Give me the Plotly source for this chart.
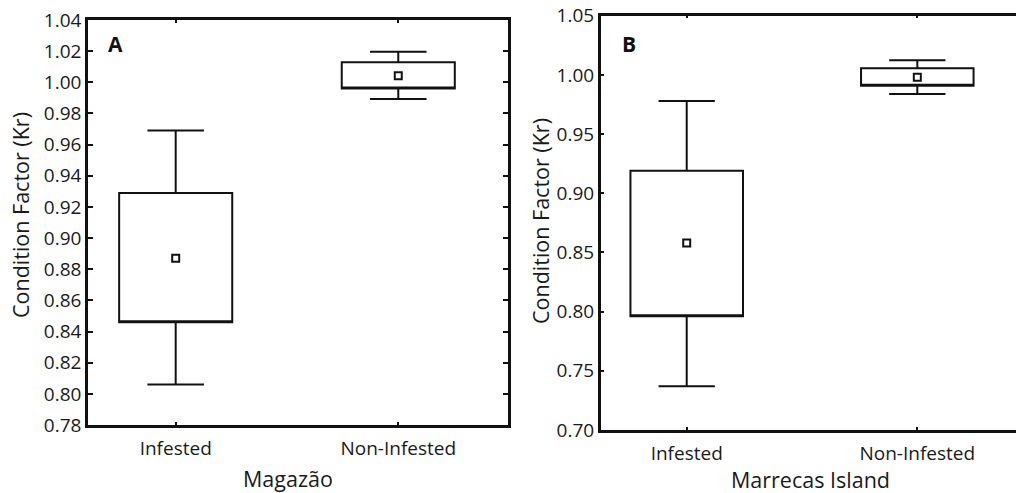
import plotly.graph_objects as go

categories = ["Infested", "Non-Infested"]

# Panel A - Magazão
a_upper = [0.969, 1.0196]
a_q3 = [0.929, 1.0128]
a_mean = [0.887, 1.0042]
a_q1 = [0.846, 0.9961]
a_lower = [0.806, 0.9893]

# Panel B - Marrecas Island
b_upper = [0.978, 1.0123]
b_q3 = [0.919, 1.0056]
b_mean = [0.858, 0.998]
b_q1 = [0.796, 0.9909]
b_lower = [0.737, 0.9839]

a_ticks = [0.78, 0.80, 0.82, 0.84, 0.86, 0.88, 0.90, 0.92, 0.94, 0.96, 0.98, 1.00, 1.02, 1.04]
b_ticks = [0.70, 0.75, 0.80, 0.85, 0.90, 0.95, 1.00, 1.05]

FONT = "Open Sans"
W, H = 1016, 493

fig = go.Figure()

def add_panel(xa, ya, q1, q3, lo, up, mean, bw):
    fig.add_trace(go.Box(
        x=categories, q1=q1, median=q1, q3=q3, lowerfence=lo, upperfence=up,
        width=bw, whiskerwidth=0.5, fillcolor="white",
        line=dict(color="#111111", width=2), boxpoints=False,
        xaxis=xa, yaxis=ya, showlegend=False, hoverinfo="skip"))
    fig.add_trace(go.Scatter(
        x=categories, y=mean, mode="markers",
        marker=dict(symbol="square-open", size=7, color="#111111",
                    line=dict(width=2, color="#111111")),
        xaxis=xa, yaxis=ya, showlegend=False, hoverinfo="skip"))

add_panel("x", "y", a_q1, a_q3, a_lower, a_upper, a_mean, 0.508)
add_panel("x2", "y2", b_q1, b_q3, b_lower, b_upper, b_mean, 0.488)

axis_common = dict(showgrid=False, zeroline=False, showline=True, linecolor="#111111",
                   linewidth=2.5, ticks="inside", tickcolor="#111111", tickwidth=2,
                   tickfont=dict(family=FONT, size=19, color="#1a1a1a"), automargin=False)

fig.update_layout(
    width=W, height=H, margin=dict(l=0, r=0, t=0, b=0),
    paper_bgcolor="white", plot_bgcolor="white",
    font=dict(family=FONT, color="#1a1a1a"),
    xaxis=dict(domain=[88 / W, 508 / W], anchor="y", type="category",
               range=[-0.394, 1.493], mirror="ticks", ticklen=3,
               ticklabelstandoff=4, **axis_common),
    yaxis=dict(domain=[68 / H, 473 / H], anchor="x", range=[0.78, 1.04],
               tickvals=a_ticks, ticktext=[f"{v:.2f}" for v in a_ticks],
               mirror="ticks", ticklen=5, **axis_common),
    xaxis2=dict(domain=[600.7 / W, 1.0], anchor="y2", type="category",
                range=[-0.373, 1.428], mirror="ticks", ticklen=3,
                ticklabelstandoff=4, **axis_common),
    yaxis2=dict(domain=[63 / H, 477.3 / H], anchor="x2", range=[0.70, 1.05],
                tickvals=b_ticks, ticktext=[f"{v:.2f}" for v in b_ticks],
                mirror=False, ticklen=4, **axis_common),
)

ann = []
title_font = dict(family=FONT, size=21.5, color="#1a1a1a")
ann.append(dict(text="Condition Factor (Kr)", x=20 / W, y=1 - 215 / H, xref="paper", yref="paper",
                textangle=-90, showarrow=False, font=title_font, xanchor="center", yanchor="middle"))
ann.append(dict(text="Condition Factor (Kr)", x=540 / W, y=1 - 221 / H, xref="paper", yref="paper",
                textangle=-90, showarrow=False, font=title_font, xanchor="center", yanchor="middle"))
ann.append(dict(text="Magazão", x=288 / W, y=1 - 478 / H, xref="paper", yref="paper",
                showarrow=False, font=title_font, xanchor="center", yanchor="middle"))
ann.append(dict(text="Marrecas Island", x=810 / W, y=1 - 479 / H, xref="paper", yref="paper",
                showarrow=False, font=title_font, xanchor="center", yanchor="middle"))
ann.append(dict(text="<b>A</b>", x=115.5 / W, y=1 - 44.5 / H, xref="paper", yref="paper",
                showarrow=False, font=dict(family=FONT, size=21, color="#111111"),
                xanchor="center", yanchor="middle"))
ann.append(dict(text="<b>B</b>", x=629 / W, y=1 - 44.5 / H, xref="paper", yref="paper",
                showarrow=False, font=dict(family=FONT, size=21, color="#111111"),
                xanchor="center", yanchor="middle"))
fig.update_layout(annotations=ann)

fig.write_html("out.html", config={"displayModeBar": False},
               post_script="document.body.style.margin='0px';document.body.style.overflow='hidden';")
